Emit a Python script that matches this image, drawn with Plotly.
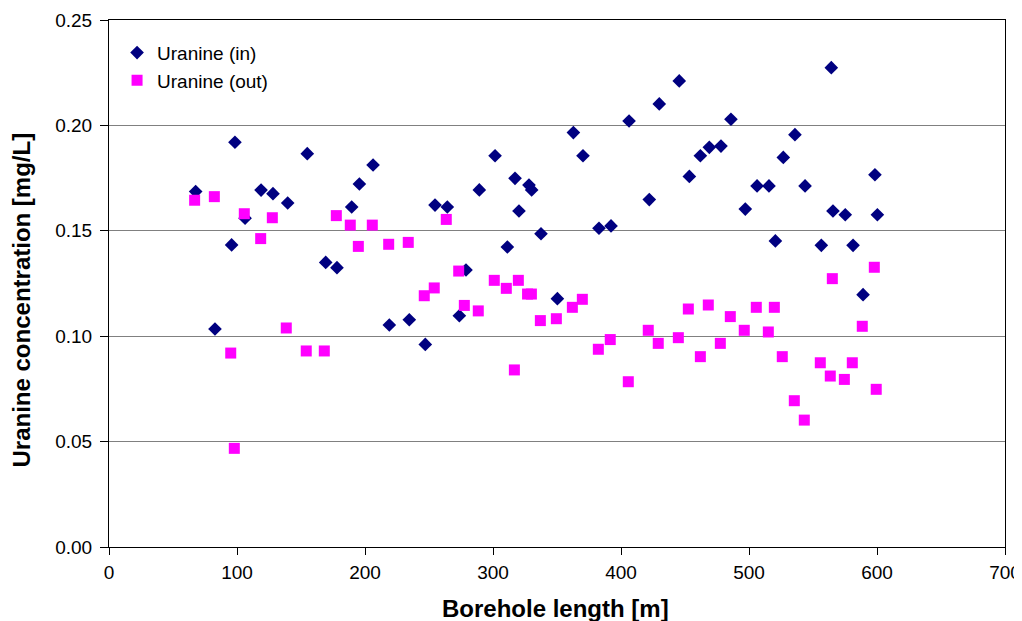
import plotly.graph_objects as go

# Uranine (in)
in_x = [67.7, 82.8, 95.8, 98.4, 106.3, 118.8, 128.1, 139.6, 154.9, 169.3,
        178.1, 189.6, 195.6, 206.3, 219.0, 234.6, 247.1, 254.7, 264.3, 273.7,
        278.9, 289.3, 301.6, 311.2, 317.2, 320.3, 328.1, 330.2, 337.5, 350.3,
        362.8, 370.3, 382.8, 392.2, 406.3, 422.1, 429.9, 445.5, 453.4, 462.0,
        469.0, 478.1, 485.9, 497.1, 506.3, 515.6, 520.6, 526.8, 535.9, 543.8,
        556.5, 564.3, 565.6, 575.2, 581.3, 589.1, 598.4, 600.3]
in_y = [0.1686, 0.1034, 0.1433, 0.1920, 0.1560, 0.1693, 0.1676, 0.1632, 0.1866, 0.1350,
        0.1325, 0.1613, 0.1722, 0.1812, 0.1053, 0.1078, 0.0961, 0.1622, 0.1613, 0.1097,
        0.1314, 0.1694, 0.1856, 0.1423, 0.1749, 0.1594, 0.1717, 0.1694, 0.1486, 0.1178,
        0.1966, 0.1856, 0.1512, 0.1523, 0.2021, 0.1648, 0.2102, 0.2211, 0.1758, 0.1856,
        0.1896, 0.1902, 0.2029, 0.1603, 0.1713, 0.1713, 0.1452, 0.1848, 0.1956, 0.1713,
        0.1431, 0.2274, 0.1594, 0.1576, 0.1431, 0.1197, 0.1766, 0.1576]

# Uranine (out)
out_x = [66.9, 82.3, 95.1, 97.9, 105.7, 118.5, 127.6, 138.5, 154.1, 168.2,
         177.6, 188.5, 194.8, 205.7, 218.5, 233.8, 246.3, 254.1, 263.5, 273.2,
         277.6, 288.5, 301.0, 310.4, 316.7, 319.8, 327.0, 330.0, 337.0, 349.5,
         362.0, 369.8, 382.3, 391.6, 405.7, 421.3, 429.1, 444.8, 452.6, 462.0,
         468.2, 477.6, 485.4, 496.3, 505.7, 515.1, 519.8, 526.0, 535.4, 543.2,
         555.7, 563.5, 565.1, 574.5, 580.7, 588.5, 597.9, 599.4]
out_y = [0.1645, 0.1662, 0.0920, 0.0468, 0.1581, 0.1463, 0.1562, 0.1039, 0.0930, 0.0930,
         0.1572, 0.1527, 0.1426, 0.1527, 0.1436, 0.1445, 0.1192, 0.1229, 0.1554, 0.1309,
         0.1146, 0.1120, 0.1265, 0.1227, 0.0840, 0.1265, 0.1200, 0.1200, 0.1074, 0.1083,
         0.1137, 0.1175, 0.0938, 0.0984, 0.0784, 0.1028, 0.0966, 0.0993, 0.1129, 0.0903,
         0.1148, 0.0966, 0.1093, 0.1028, 0.1137, 0.1020, 0.1137, 0.0903, 0.0694, 0.0602,
         0.0874, 0.0811, 0.1273, 0.0795, 0.0874, 0.1047, 0.1327, 0.0748]

x_ticks = [0, 100, 200, 300, 400, 500, 600, 700]
y_ticks = [0.00, 0.05, 0.10, 0.15, 0.20, 0.25]
y_tick_text = ["0.00", "0.05", "0.10", "0.15", "0.20", "0.25"]

FONT = "Liberation Sans, Arial, sans-serif"

fig = go.Figure()
fig.add_trace(go.Scatter(x=in_x, y=in_y, mode="markers", name="Uranine (in)",
                         marker=dict(symbol="diamond", size=10.5, color="#000080",
                                     line=dict(width=0))))
fig.add_trace(go.Scatter(x=out_x, y=out_y, mode="markers", name="Uranine (out)",
                         marker=dict(symbol="square", size=11, color="#FF00FF",
                                     line=dict(width=0))))

fig.update_layout(
    width=1014, height=613,
    margin=dict(l=101, r=17, t=12, b=74),
    paper_bgcolor="white", plot_bgcolor="white",
    font=dict(family=FONT, color="black", size=19),
    showlegend=True,
    legend=dict(x=0.009, y=0.974, xanchor="left", yanchor="top",
                bgcolor="rgba(0,0,0,0)", font=dict(size=19, family=FONT),
                tracegroupgap=0),
    xaxis=dict(range=[0, 700], tickvals=x_ticks, ticks="outside", ticklen=7,
               tickcolor="black", showgrid=False, zeroline=False,
               showline=True, linecolor="black", linewidth=1, mirror=True,
               ticklabelstandoff=1, automargin=False,
               tickfont=dict(size=19, family=FONT)),
    yaxis=dict(range=[0, 0.25], tickvals=y_ticks, ticktext=y_tick_text,
               ticks="outside", ticklen=8, tickcolor="black",
               showgrid=True, gridcolor="#808080", gridwidth=1,
               zeroline=False, showline=True, linecolor="black", linewidth=1,
               mirror=True, ticklabelstandoff=4, automargin=False,
               tickfont=dict(size=19, family=FONT)),
    annotations=[
        dict(text="<b>Borehole length [m]</b>", xref="paper", yref="paper",
             x=0.5, y=0, yshift=-61, xshift=-2, xanchor="center", yanchor="middle",
             showarrow=False, font=dict(size=24, family=FONT)),
        dict(text="<b>Uranine concentration [mg/L]</b>", xref="paper", yref="paper",
             x=0, xshift=-88, y=0.5, yshift=-17, xanchor="center", yanchor="middle",
             textangle=-90, showarrow=False, font=dict(size=24, family=FONT)),
    ],
)

fig.write_html("out.html")
